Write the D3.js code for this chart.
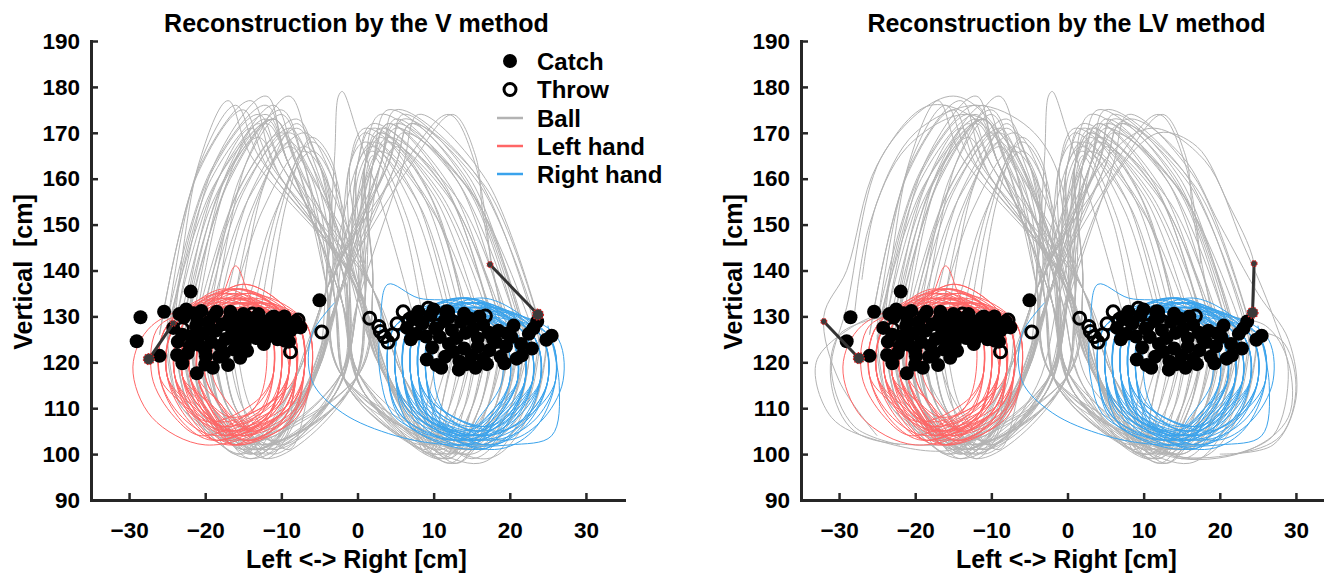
<!DOCTYPE html>
<html lang="en">
<head>
<meta charset="UTF-8"/>
<title>Reconstruction by the V and LV methods</title>
<script src="https://d3js.org/d3.v7.min.js"></script>
<style>
  body { margin: 0; background: #FFFFFF; }
  svg text { font-family: "Liberation Sans", Arial, sans-serif; font-weight: bold; fill: #000; }
</style>
</head>
<body>
<div id="chart"></div>
<script>
// tick values and labels
var xTicks = [-30, -20, -10, 0, 10, 20, 30];
var yTicks = [90, 100, 110, 120, 130, 140, 150, 160, 170, 180, 190];
var panelTitles = ["Reconstruction by the V method", "Reconstruction by the LV method"];
var legendLabels = ["Catch", "Throw", "Ball", "Left hand", "Right hand"];

// ball paths, x,y pairs in cm: left-hand carry, then flight to the right hand
var ballToRight = [
  [-22,127,-20,110,-13,101,-6,116,-2,137,2,163,4,172,11.7,158,18,126],
  [-20,129,-18,110,-12,102,-3,113,0,133,1,163,3,170,9.6,156,15,123],
  [-24,125,-22,110,-15,100,-8,117,-4,136,4,163,6,174,14.8,160,22,125],
  [-18,130,-16,110,-11,103,-1,114,1,134,0,163,2,167,7.5,153,12,128],
  [-21,123,-19,110,-14,99,-5,119,-3,139,3,163,5,175,15.5,161,24,124],
  [-23,128,-21,110,-16,102,0,117,2,136,1,163,3,171,11.8,157,19,120],
  [-19,126,-17,110,-12,100,-7,114,-3,132,5,163,7,172,14.7,158,21,130],
  [-25,122,-23,110,-14,103,-2,118,-1,140,-1,163,1,168,8.2,154,14,121],
  [-22,131,-20,110,-13,100,-6,116,-2,137,3,163,5,171,14.9,157,23,127],
  [-17,124,-15,110,-10,102,-3,113,0,133,0,160,2,166,6.4,152,10,126],
  [-21,128,-19,110,-15,101,-8,117,-4,136,4,163,6,173,15.9,159,24,126],
  [-20,126,-18,110,-12,99,-1,114,1,134,1,163,3,170,10.7,156,17,131],
  [-23,124,-21,110,-14,102,-5,119,-3,139,2,163,4,168,12.8,154,20,122],
  [-18,127,-16,110,-11,101,0,117,2,136,1,159,2,165,5.9,151,9,125],
  [-22,129,-20,110,-16,100,-7,114,-3,132,3,163,5,172,14.4,158,22,121],
  [-19,122,-17,110,-13,103,-2,118,-1,140,0,163,2,171,10.8,157,18,129],
  [-24,128,-22,110,-15,102,-6,116,-2,137,2,163,4,169,13.4,155,21,123],
  [-21,125,-19,110,-12,101,-3,113,0,133,6,163,8,174,16.8,160,24,128],
  [-20,130,-18,110,-14,100,-8,117,-4,136,0,163,2,168,9.7,154,16,120],
  [-22,126,-20,110,-13,102,-1,114,1,134,2,163,4,172,12.3,158,19,127],
  [-19,126,-17,110,-12,102,-5,119,-3,139,6,163,12,174,15.5,163,17.5,141.5],
  [-21,124,-19,110,-13,101,-6,115,-4,140,-3,165,-2.5,178,-2,179,0,170,4,150,8,126],
  [-23,127,-21,110,-15,103,-7,114,-3,132,-1,163,1,170,7.6,156,13,124],
  [-18,128,-16,110,-11,100,-2,118,-1,140,5,163,7,172,16.9,158,25,122],
  [-16,126,-14,110,-9,101,-6,116,-2,137,1,163,3,169,9,155,14,127],
  [-24,130,-22,110,-14,99,-3,113,0,133,3,163,5,173,13.3,159,20,125],
  [-20,121,-18,110,-10,103,-8,117,-4,136,1,160,3,166,10.2,152,16,129],
  [-22,124,-20,110,-15,101,-1,114,1,134,-1,163,1,171,9.8,157,17,124],
  [-17,129,-15,110,-12,99,-5,119,-3,139,4,163,6,170,15.4,156,23,121],
  [-25,126,-23,110,-16,103,0,117,2,136,1,163,3,174,12.9,160,21,128],
  [-21,131,-19,110,-13,100,-7,114,-3,132,3,160,5,167,10.5,153,15,122],
  [-19,123,-17,110,-11,102,-2,118,-1,140,0,163,2,172,11.4,158,19,130],
  [-22,127,-20,110,-14,100,-6,116,-2,137,7,163,12.5,174,15.5,165,16.5,152,19,130],
  [-20,127,-18,110,-14,101,-3,113,0,133,2,163,4,175,13.9,161,22,126]
];

// ball paths, x,y pairs in cm: right-hand carry, then flight to the left hand
var ballToLeft = [
  [20,126,18,110,13,100,4,116,0,137,-8,163,-11,173,-17.6,159,-23,128],
  [17,124,15,110,11,101,1,113,-2,133,-6,163,-9,170,-15.6,156,-21,126],
  [23,128,21,110,15,99,6,117,2,136,-9,163,-12,178,-18.6,164,-24,127],
  [15,122,13,110,9,102,-1,114,-3,134,-4,160,-7,167,-12.5,153,-17,129],
  [19,121,17,110,12,98,3,119,-1,139,-10,163,-13,174,-19.6,160,-25,125],
  [22,124,20,110,14,101,-2,117,-4,136,-7,163,-10,175,-16.6,161,-22,131],
  [13,127,11,110,10,103,5,114,1,132,-3,159,-6,166,-11,152,-15,128],
  [18,129,16,110,12,100,0,118,-2,140,-11,163,-14,177,-20.6,163,-26,126],
  [24,125,22,110,16,102,4,116,0,137,-6,163,-9,171,-15,157,-20,130],
  [16,130,14,110,11,99,1,113,-2,133,-9,163,-12,173,-18.6,159,-24,128],
  [21,122,19,110,13,101,6,117,2,136,-7,163,-10,170,-16,156,-21,124],
  [11,125,9,110,8,103,-1,114,-3,134,-8,163,-11,173,-18.7,159,-25,127],
  [14,126,12,110,10,100,3,119,-1,139,-3,161,-6,168,-10.4,154,-14,127],
  [25,126,23,110,17,102,-2,117,-4,136,-8,163,-11,173,-17,159,-22,132],
  [20,131,18,110,13,98,5,114,1,132,-9,163,-12,176,-19.2,162,-25,129],
  [12,121,10,110,9,101,0,118,-2,140,-5,163,-8,171,-14,157,-19,125],
  [17,127,15,110,12,99,4,116,0,137,-4,163,-7,170,-14.2,156,-20,126],
  [22,120,20,110,15,100,1,113,-2,133,-9,163,-12,172,-18,158,-23,124],
  [19,128,17,110,12,102,6,117,2,136,-5,163,-8,173,-15.2,159,-21,130],
  [15,124,13,110,11,100,-1,114,-3,134,-6,160,-9,167,-14,153,-18,128],
  [21,127,19,110,14,101,3,119,-1,139,-12,163,-15,175,-21,161,-26,126],
  [18,123,16,110,12,99,-2,117,-4,136,-4,159,-7,166,-10.3,152,-13,128],
  [23,130,21,110,15,101,5,114,1,132,-6,165,-9,178,-14.5,164,-19,127],
  [16,126,14,110,10,102,0,118,-2,140,-10,160,-13,169,-19,155,-24,123],
  [20,123,18,110,14,100,4,116,0,137,-13,165,-16,176,-21,162,-25,128],
  [24,129,22,110,16,98,1,113,-2,133,-5,163,-8,172,-12.4,158,-16,126],
  [14,121,12,110,9,100,6,117,2,136,-11,162,-14,171,-19,157,-23,127],
  [21,126,19,110,13,103,-1,114,-3,134,-7,163,-10,174,-15.5,160,-20,123],
  [18,130,16,110,11,99,3,119,-1,139,-14,165,-17,177,-20.9,163,-24,129],
  [22,125,20,110,15,101,-2,117,-4,136,-3,162,-6,169,-9.3,155,-12,127],
  [17,122,15,110,12,100,5,114,1,132,-8,164,-11,176,-17,162,-22,125],
  [25,127,23,110,17,99,0,118,-2,140,-10,163,-13,172,-17.4,158,-21,131],
  [13,124,11,110,10,101,4,116,0,137,-6,161,-9,168,-13.4,154,-17,125],
  [19,127,17,110,13,98,1,113,-2,133,-9,163,-12,174,-19.2,160,-25,124]
];

// extra, wider ball paths that appear with the LV method (cm)
var ballLVExtra = [
  [22,128,20,112,15,100,3,115,0,135,-8,168,-15,178,-24,166,-29,132,-31,118,-28,106,-22,102],
  [18,125,16,112,12,101,2,115,-1,135,-10,170,-18,176,-25,163,-29,140,-32,130,-30,116,-25,104],
  [20,122,18,110,10,100,2,115,-1,135,-7,166,-13,174,-21,167,-26,150,-28,130],
  [-22,125,-20,112,-14,101,-3,115,0,135,3,163,8,173,15,165,20,150,25,135,29,125,30,112,27,102,20,100],
  [-18,127,-15,112,-10,102,-3,115,0,135,6,160,12,170,17,167,21,155,24.5,141.5,24.3,131],
  [-20,124,-17,112,-11,101,-4,115,-1,135,4,162,11,171,18,164,23,146,27,130,29,118,27,104,22,100],
  [-24,130,-30,126,-31,115,-28,105,-20,102,-12,104,-8,115,-7,128],
  [-22,132,-28,128,-33,120,-31,108,-25,103,-15,101,-9,108,-6,126],
  [20,130,26,128,29,120,29,108,24,101,15,99,8,104,4,118,3,128],
  [23,127,28,125,30,115,28,104,22,100,13,100,6,108,3,127],
  [-21,126,-19,110,-12,100,-3,115,0,135,-1,160,-5,171,-12,176,-20,170,-25,155,-27,138]
];

// left hand loops (cm, closed)
var leftHandLoops = [
  [-23,128,-24,117,-21,108,-17,104,-10,109,-8,118,-9,129,-16,134],
  [-21,128,-22,117,-19,110,-15.5,106,-9,111,-7,118,-8,129,-14.5,133],
  [-24,128,-25,117,-22,107,-18.5,103,-12,108,-10,118,-11,129,-17.5,136],
  [-22,128,-23,117,-20,109,-17,105,-11,110,-9,118,-10,129,-16,135],
  [-20,128,-21,117,-18,107,-14.5,103,-8,108,-6,118,-7,129,-13.5,132],
  [-25,128,-26,117,-23,111,-19.5,107,-13,112,-11,118,-12,129,-18.5,134],
  [-22,128,-23,117,-20,106,-16,102,-9,107,-7,118,-8,129,-15,137],
  [-19,128,-20,117,-17,108,-15,104,-10,109,-8,118,-9,129,-14,131],
  [-23,128,-24,117,-21,110,-17.5,106,-11,111,-9,118,-10,129,-16.5,133],
  [-21,128,-22,117,-19,107,-17,103,-12,108,-10,118,-11,129,-16,134],
  [-24,128,-25,117,-22,109,-17,105,-9,110,-7,118,-8,129,-16,136],
  [-20,128,-21,117,-18,111,-16,107,-11,112,-9,118,-10,129,-15,132],
  [-22,128,-23,117,-20,108,-15.5,104,-8,109,-6,118,-7,129,-14.5,135],
  [-26,128,-27,117,-24,108,-20.5,104,-14,109,-12,118,-13,129,-19.5,131],
  [-21,128,-22,117,-19,106,-16,102,-10,107,-8,118,-9,129,-15,134],
  [-18,128,-19,117,-16,109,-14,105,-9,110,-7,118,-8,129,-13,133],
  [-23,128,-24,117,-21,107,-18.5,103,-13,108,-11,118,-12,129,-17.5,132],
  [-22,128,-23,117,-20,112,-16.5,108,-10,113,-8,118,-9,129,-15.5,136],
  [-25,128,-26,117,-23,108,-18.5,104,-11,109,-9,118,-10,129,-17.5,134],
  [-20,128,-21,117,-18,108,-15.5,104,-10,109,-8,118,-9,129,-14.5,135],
  [-27,128,-29.5,119,-27,108,-20,102,-11,107,-8,118,-10,129,-18,133],
  [-22,128,-23,117,-20,109,-16.5,105,-11,110,-9,118,-11,129,-14,134,-16,141,-18,134],
  [-23,128,-24,117,-21,109,-18,105,-12,110,-10,118,-11,129,-17,135],
  [-21,128,-22,117,-19,108,-16.5,104,-11,109,-9,118,-10,129,-15.5,133],
  [-24,128,-25,117,-22,110,-17.5,106,-10,111,-8,118,-9,129,-16.5,136],
  [-20,128,-21,117,-18,107,-15,103,-9,108,-7,118,-8,129,-14,134],
  [-22,128,-23,117,-20,110,-18,106,-13,111,-11,118,-12,129,-17,132],
  [-25,128,-26,117,-23,107,-19,103,-12,108,-10,118,-11,129,-18,135],
  [-19,128,-20,117,-17,109,-14,105,-8,110,-6,118,-7,129,-13,133],
  [-23,128,-24,117,-21,106,-17,102,-10,107,-8,118,-9,129,-16,136],
  [-21,128,-22,117,-19,108,-17.5,104,-13,109,-11,118,-12,129,-16.5,131],
  [-24,128,-25,117,-22,111,-18,107,-11,112,-9,118,-10,129,-17,134],
  [-22,128,-23,117,-20,109,-16,105,-9,110,-7,118,-8,129,-15,137],
  [-20,128,-21,117,-18,106,-16.5,102,-12,107,-10,118,-11,129,-15.5,133]
];

// right hand loops (cm, closed)
var rightHandLoops = [
  [22,126,23,116,20,107,15.5,103,8,108,6,117,7,128,14.5,133],
  [20,126,21,116,18,109,14,105,7,110,5,117,6,128,13,132],
  [24,126,25,116,22,106,17.5,102,10,107,8,117,9,128,16.5,134],
  [21,126,22,116,19,108,15.5,104,9,109,7,117,8,128,14.5,131],
  [19,126,20,116,17,107,13,103,6,108,4,117,5,128,12,133],
  [25,126,26,116,23,109,18.5,105,11,110,9,117,10,128,17.5,132],
  [23,126,24,116,21,105,15.5,101,7,106,5,117,6,128,14.5,134],
  [18,126,19,116,16,108,14,104,9,109,7,117,8,128,13,130],
  [22,126,23,116,20,110,16.5,106,10,111,8,117,9,128,15.5,133],
  [21,126,22,116,19,106,14,102,6,107,4,117,5,128,13,132],
  [24,126,25,116,22,108,16.5,104,8,109,6,117,7,128,15.5,131],
  [20,126,21,116,18,107,15.5,103,10,108,8,117,9,128,14.5,134],
  [23,126,24,116,21,109,16.5,105,9,110,7,117,8,128,15.5,133],
  [26,126,27,116,24,107,19.5,103,12,108,10,117,11,128,18.5,131],
  [19,126,20,116,17,106,14,102,8,107,6,117,7,128,13,132],
  [22,126,23,116,20,108,15,104,7,109,5,117,6,128,14,134],
  [25,126,26,116,23,107,17.5,103,9,108,7,117,8,128,16.5,130],
  [21,126,22,116,19,105,16.5,101,11,106,9,117,10,128,15.5,133],
  [23,126,24,116,21,108,16,104,8,109,6,117,7,128,15,132],
  [20,126,21,116,18,110,15,106,9,111,7,117,8,128,14,131],
  [21,126,22,116,19,107,13.5,103,5,108,3,117,3,128,4,137,8,134,14,133],
  [22,126,23,116,20,106,16,102,9,107,7,117,8,128,15,132],
  [20,126,21,116,18,108,14.5,104,8,109,6,117,7,128,13.5,134],
  [24,126,25,116,22,107,16,103,7,108,5,117,6,128,15,133],
  [21,126,22,116,19,109,16,105,10,110,8,117,9,128,15,131],
  [23,126,24,116,21,106,17.5,102,11,107,9,117,10,128,16.5,133],
  [19,126,20,116,17,108,13.5,104,7,109,5,117,6,128,12.5,132],
  [25,126,26,116,23,105,18,101,10,106,8,117,9,128,17,132],
  [22,126,23,116,20,109,15.5,105,8,110,6,117,7,128,14.5,134],
  [20,126,21,116,18,107,16,103,11,108,9,117,10,128,15,130],
  [24,126,25,116,22,108,17,104,9,109,7,117,8,128,16,133],
  [21,126,22,116,19,107,14,103,6,108,4,117,5,128,13,131],
  [23,126,24,116,21,110,17,106,10,111,8,117,9,128,16,132]
];
// one stray right-hand sweep (open path)
var rightHandStray = [-3,133,-6,126,-6,116,-2,109,5,104,12,102,20,102,25.5,104,26.5,115,25,128];

// catch positions (filled markers)
var catchPoints = [
  [-24.2,127.5],[-23.6,124.5],[-23.7,121.6],[-22.8,129.8],[-22.3,122],[-21.8,125.6],[-21.5,130.7],[-21.2,127.9],
  [-20.8,123.8],[-20.5,131.2],[-20.3,126.2],[-19.9,121.3],[-19.6,128.7],[-19.2,124.4],[-18.9,130.1],[-18.6,126.9],
  [-18.2,121.2],[-18,123.6],[-17.7,128.3],[-17.3,125.1],[-17,119.4],[-16.7,131],[-16.5,127.2],[-16.2,122.8],
  [-15.9,129.4],[-15.6,125.6],[-15.4,121],[-15.1,127.9],[-14.8,124.2],[-14.5,129.9],[-14.1,126.4],[-13.7,128.2],
  [-13.3,125.3],[-12.9,129.1],[-12.5,127],[-12.1,125.6],[-11.6,128.6],[-11.2,126.4],[-10.7,129.3],[-10.3,127.3],
  [-9.8,125.9],[-9.3,128.4],[-8.8,126.9],[-8.1,128.9],[-7.5,127.6],
  [-23,126],[-22,123.5],[-21,129],[-20,122.5],[-19,127],[-18.5,131],[-17.5,122],[-16.8,129.5],[-16,124.5],
  [-15,130.5],[-14.5,122.5],[-13.9,127],[-13,130.5],[-12.3,124],[-11,130],[-10.5,125],[-9.6,130],[-9,124.5],
  [-20,119.5],[-23,119.8],[-19,118.8],
  [-21.9,135.4],[-28.5,129.8],[-25.4,131],[-23.4,130.5],[-29,124.6],[-26,121.4],[-21.1,117.6],[-5,133.5],[-22.5,131.5],
  [6.5,127.5],[7.2,129.8],[7.8,126.2],[8.4,128.6],[9,125.6],[9.6,130.3],[10.2,127.4],[10.8,125.5],[11.4,129],
  [11.9,131],[12.4,127],[13,125.3],[13.6,128.8],[14.2,126.4],[14.8,129.5],[15.2,127.4],[15.8,125.2],[16.5,128.2],
  [17.2,126.5],[7,125],[8,131],[10,131.5],[12,129.8],[14,130.6],[16,130],
  [9.1,120.6],[10.4,119.4],[11.5,121.2],[12.6,122.3],[13.4,120.2],[14.3,119.6],[15,121.5],[15.8,123.4],[16.5,120.8],
  [17.3,122.6],[18.2,124.4],[18.8,121.2],[19.5,123.5],[20.2,125.5],[20.9,120.8],[21.5,124],[19.6,126.3],[18.5,126.9],
  [17.8,125],[9.8,123.2],[12,124],[14,123],[17,119.6],[19.3,119.8],[21.6,121.5],[20.5,128],[13.3,118.4],[11,118.8],
  [15.5,118.8],
  [23.1,127.4],[24.8,124.9],[22.9,123],[23.6,128.9],[25.5,125.8],[22.5,126.2]
];

// throw positions (open markers)
var throwPoints = [
  [-13.8,130.5],[-23,127.3],[-8.8,122.3],[-4.7,126.6],[-8.2,127.8],[-12.8,127.4],[-11.3,129.5],[-10.2,126.4],
  [-14.6,128.1],[-9.5,124.8],[-15.5,126.4],[-12.1,125.3],[-7.8,129.2],
  [1.6,129.6],[3,126.7],[4,124.4],[3.5,125.6],[2.8,127.8],[4.6,126],[6,131],[6.8,129.3],[9.3,131.8],
  [11.7,131],[16.8,130.1],[7.5,127],[8.5,128.5],[10.5,128],[12.6,128.8],[5.2,128.4]
];

// highlighted pairs: [small point, ringed point]
var marksV  = [[[-24.2,128.5],[-27.4,120.7]], [[17.4,141.3],[23.7,130.4]]];
var marksLV = [[[-32,128.9],[-27.4,120.9]], [[24.5,141.5],[24.3,130.8]]];

// flat x,y lists -> [x, y] pairs
function toPairs(a) {
  var out = [];
  for (var i = 0; i < a.length; i += 2) out.push([a[i], a[i + 1]]);
  return out;
}

var ballV = ballToLeft.concat(ballToRight).map(toPairs);
var ballLV = ballToLeft.concat(ballToRight, ballLVExtra).map(toPairs);
var leftLoops = leftHandLoops.map(toPairs);
var rightLoops = rightHandLoops.map(toPairs);

var w = 1324, h = 575;
var plotTop = 41, plotBottom = 500, plotW = 533;
var colBall = "#b3b3b3", colLeft = "#ff6666", colRight = "#3aa3ec", colAxis = "#262626";

var svg = d3.select("#chart").append("svg")
    .attr("width", w)
    .attr("height", h);

var panels = [
  {left: 91, title: panelTitles[0], balls: ballV, marks: marksV, legend: true},
  {left: 801, title: panelTitles[1], balls: ballLV, marks: marksLV, legend: false}
];

panels.forEach(function(p) {
  var xScale = d3.scaleLinear().domain([-35, 35]).range([p.left, p.left + plotW]);
  var yScale = d3.scaleLinear().domain([90, 190]).range([plotBottom, plotTop]);
  var g = svg.append("g");

  var line = d3.line()
      .x(function(d) { return xScale(d[0]); })
      .y(function(d) { return yScale(d[1]); })
      .curve(d3.curveCatmullRom.alpha(0.5));
  var loop = d3.line()
      .x(function(d) { return xScale(d[0]); })
      .y(function(d) { return yScale(d[1]); })
      .curve(d3.curveCatmullRomClosed.alpha(0.5));

  // ball trajectories
  g.append("g").selectAll("path")
      .data(p.balls)
      .enter().append("path")
      .attr("d", line)
      .attr("fill", "none")
      .attr("stroke", colBall)
      .attr("stroke-width", 1);

  // hand loops
  g.append("g").selectAll("path")
      .data(leftLoops)
      .enter().append("path")
      .attr("d", loop)
      .attr("fill", "none")
      .attr("stroke", colLeft)
      .attr("stroke-width", 1);
  g.append("g").selectAll("path")
      .data(rightLoops)
      .enter().append("path")
      .attr("d", loop)
      .attr("fill", "none")
      .attr("stroke", colRight)
      .attr("stroke-width", 1);
  g.append("path")
      .attr("d", line(toPairs(rightHandStray)))
      .attr("fill", "none")
      .attr("stroke", colRight)
      .attr("stroke-width", 1);

  // catches and throws
  g.append("g").selectAll("circle")
      .data(catchPoints)
      .enter().append("circle")
      .attr("cx", function(d) { return xScale(d[0]); })
      .attr("cy", function(d) { return yScale(d[1]); })
      .attr("r", 7)
      .attr("fill", "#000");
  g.append("g").selectAll("circle")
      .data(throwPoints)
      .enter().append("circle")
      .attr("cx", function(d) { return xScale(d[0]); })
      .attr("cy", function(d) { return yScale(d[1]); })
      .attr("r", 6)
      .attr("fill", "none")
      .attr("stroke", "#000")
      .attr("stroke-width", 3);

  // highlighted pairs
  var mk = g.append("g").selectAll("g").data(p.marks).enter().append("g");
  mk.append("line")
      .attr("x1", function(d) { return xScale(d[0][0]); })
      .attr("y1", function(d) { return yScale(d[0][1]); })
      .attr("x2", function(d) { return xScale(d[1][0]); })
      .attr("y2", function(d) { return yScale(d[1][1]); })
      .attr("stroke", "#333")
      .attr("stroke-width", 3);
  mk.append("circle")
      .attr("cx", function(d) { return xScale(d[1][0]); })
      .attr("cy", function(d) { return yScale(d[1][1]); })
      .attr("r", 5.5)
      .attr("fill", "#3a3a3a")
      .attr("stroke", "#e02020")
      .attr("stroke-width", 1.2)
      .attr("stroke-dasharray", "1.5,1.5");
  mk.append("circle")
      .attr("cx", function(d) { return xScale(d[0][0]); })
      .attr("cy", function(d) { return yScale(d[0][1]); })
      .attr("r", 3)
      .attr("fill", "#3a3a3a")
      .attr("stroke", "#e02020")
      .attr("stroke-width", 1.2)
      .attr("stroke-dasharray", "1.2,1.2");

  // axes
  var xAxis = d3.axisBottom(xScale).tickValues(xTicks)
      .tickSizeInner(-7).tickSizeOuter(0).tickPadding(22);
  var yAxis = d3.axisLeft(yScale).tickValues(yTicks)
      .tickSizeInner(-7).tickSizeOuter(0).tickPadding(11);

  var gx = g.append("g")
      .attr("transform", "translate(0," + plotBottom + ")")
      .call(xAxis);
  var gy = g.append("g")
      .attr("transform", "translate(" + p.left + ",0)")
      .call(yAxis);
  [gx, gy].forEach(function(a) {
    a.attr("font-size", null).attr("font-family", null);
    a.select(".domain").attr("stroke", colAxis).attr("stroke-width", 3).attr("stroke-linecap", "square");
    a.selectAll(".tick line").attr("stroke", colAxis).attr("stroke-width", 2.5);
    a.selectAll(".tick text").attr("fill", "#000")
      .style("font-size", "22.5px").style("font-weight", "bold")
      .style("font-family", "'Liberation Sans', Arial, sans-serif");
  });

  // title and axis labels
  var mid = p.left + plotW / 2 - 1;
  g.append("text")
      .attr("x", mid)
      .attr("y", 32)
      .attr("text-anchor", "middle")
      .attr("font-size", "25px")
      .text(p.title);
  g.append("text")
      .attr("x", mid)
      .attr("y", 568)
      .attr("text-anchor", "middle")
      .attr("font-size", "25px")
      .text("Left <-> Right [cm]");
  g.append("text")
      .attr("transform", "translate(" + (p.left - 59) + "," + 272 + ") rotate(-90)")
      .attr("text-anchor", "middle")
      .attr("font-size", "25px")
      .style("white-space", "pre")
      .text("Vertical  [cm]");

  // legend
  if (p.legend) {
    var rows = [61, 89.5, 118, 146, 174];
    var lg = g.append("g");
    lg.append("circle").attr("cx", 510).attr("cy", rows[0]).attr("r", 7).attr("fill", "#000");
    lg.append("circle").attr("cx", 510).attr("cy", rows[1]).attr("r", 6)
      .attr("fill", "none").attr("stroke", "#000").attr("stroke-width", 3);
    [colBall, colLeft, colRight].forEach(function(c, i) {
      lg.append("line").attr("x1", 497).attr("x2", 523)
        .attr("y1", rows[i + 2]).attr("y2", rows[i + 2])
        .attr("stroke", c).attr("stroke-width", 2.5);
    });
    lg.selectAll("text.lab")
      .data(legendLabels)
      .enter().append("text")
      .attr("class", "lab")
      .attr("x", 537)
      .attr("y", function(d, i) { return rows[i]; })
      .attr("dy", "0.36em")
      .attr("font-size", "24px")
      .text(function(d) { return d; });
  }
});
</script>
</body>
</html>
